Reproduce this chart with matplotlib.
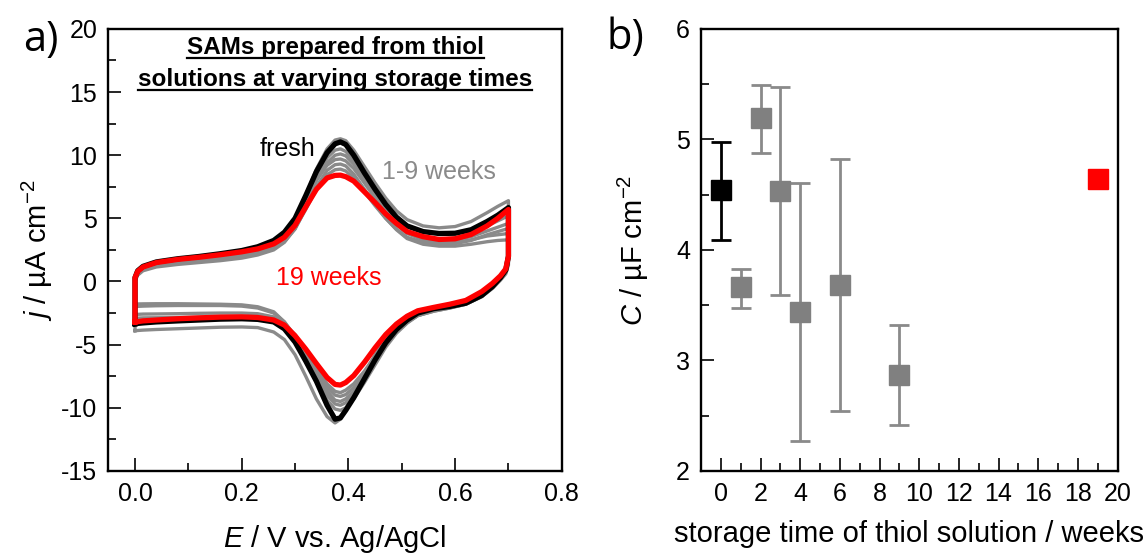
import numpy as np
import matplotlib
matplotlib.use('Agg')
import matplotlib.pyplot as plt
from matplotlib.lines import Line2D
from matplotlib.ticker import MultipleLocator

plt.rcParams['font.family'] = ['Liberation Sans', 'DejaVu Sans']
plt.rcParams['mathtext.fontset'] = 'custom'
plt.rcParams['mathtext.rm'] = 'Liberation Sans'
plt.rcParams['mathtext.it'] = 'Liberation Sans:italic'
plt.rcParams['axes.unicode_minus'] = False

# ---- panel a: cyclic voltammograms ----
E_fwd = [0.000, 0.000, 0.005, 0.015, 0.04, 0.08, 0.12, 0.16, 0.20, 0.23, 0.26, 0.28,
         0.30, 0.32, 0.34, 0.36, 0.375, 0.385, 0.395, 0.41, 0.43, 0.45, 0.47, 0.49,
         0.51, 0.54, 0.57, 0.60, 0.63, 0.66, 0.68, 0.70]
E_rev = [0.70, 0.70, 0.695, 0.685, 0.67, 0.65, 0.62, 0.59, 0.56, 0.53, 0.51, 0.49,
         0.47, 0.45, 0.43, 0.41, 0.395, 0.385, 0.375, 0.36, 0.34, 0.32, 0.30, 0.28,
         0.26, 0.23, 0.20, 0.16, 0.12, 0.08, 0.04, 0.015, 0.005, 0.0]

fresh_fwd = [-3.35, 0.3, 0.85, 1.2, 1.55, 1.8, 1.98, 2.2, 2.45, 2.75, 3.25, 3.9,
             5.0, 6.8, 8.7, 10.2, 10.9, 11.05, 10.85, 10.0, 8.6, 7.3, 6.1, 5.1,
             4.4, 3.95, 3.8, 3.82, 4.1, 4.75, 5.25, 5.85]
fresh_rev = [5.85, 2.0, 0.9, 0.3, -0.4, -1.1, -1.72, -1.98, -2.15, -2.5, -3.05, -3.8,
             -4.85, -6.2, -7.7, -9.2, -10.2, -10.8, -10.9, -9.8, -7.9, -6.3, -4.8, -3.75,
             -3.2, -3.0, -2.95, -2.98, -3.05, -3.12, -3.2, -3.28, -3.32, -3.35]

w19_fwd = [-3.2, 0.3, 0.8, 1.15, 1.5, 1.75, 1.92, 2.12, 2.35, 2.58, 2.98, 3.5,
           4.45, 5.9, 7.3, 8.2, 8.4, 8.42, 8.3, 7.95, 7.1, 6.25, 5.35, 4.6,
           3.95, 3.55, 3.33, 3.38, 3.72, 4.4, 5.0, 5.7]
w19_rev = [5.7, 2.0, 1.0, 0.45, -0.15, -0.8, -1.5, -1.8, -2.05, -2.32, -2.75, -3.37,
           -4.2, -5.25, -6.4, -7.45, -8.0, -8.2, -8.15, -7.6, -6.5, -5.35, -4.3, -3.45,
           -3.05, -2.85, -2.8, -2.82, -2.88, -2.95, -3.05, -3.12, -3.18, -3.2]

g1_fwd = [-3.9, 0.2, 0.7, 1.05, 1.4, 1.65, 1.82, 2.0, 2.25, 2.55, 3.05, 3.7,
          4.9, 6.8, 8.9, 10.5, 11.2, 11.3, 11.15, 10.4, 9.1, 7.8, 6.6, 5.6,
          4.9, 4.4, 4.25, 4.35, 4.75, 5.45, 5.95, 6.4]
g1_rev = [6.4, 2.2, 1.0, 0.4, -0.3, -1.0, -1.7, -2.0, -2.2, -2.5, -2.95, -3.6,
          -4.5, -5.8, -7.3, -8.9, -10.1, -10.9, -11.2, -10.7, -9.3, -7.5, -5.8, -4.6,
          -4.0, -3.65, -3.6, -3.62, -3.68, -3.74, -3.8, -3.85, -3.88, -3.9]
g2_fwd = [-1.8, 0.0, 0.5, 0.85, 1.15, 1.35, 1.5, 1.65, 1.85, 2.1, 2.5, 3.1,
          4.2, 6.1, 8.2, 9.8, 10.4, 10.5, 10.3, 9.6, 8.3, 7.0, 5.8, 4.8,
          4.0, 3.45, 3.25, 3.3, 3.55, 4.0, 4.3, 4.6]
g2_rev = [4.6, 1.8, 0.9, 0.3, -0.4, -1.1, -1.75, -2.05, -2.3, -2.7, -3.3, -4.1,
          -5.2, -6.6, -8.0, -9.3, -10.0, -10.2, -10.1, -9.4, -7.7, -6.0, -4.4, -3.2,
          -2.4, -2.0, -1.85, -1.8, -1.78, -1.76, -1.76, -1.77, -1.78, -1.8]
g3_fwd = [-2.0, 0.1, 0.6, 0.95, 1.3, 1.55, 1.72, 1.9, 2.1, 2.35, 2.75, 3.3,
          4.35, 6.1, 8.0, 9.4, 10.0, 10.1, 9.95, 9.3, 8.0, 6.7, 5.5, 4.5,
          3.8, 3.3, 3.1, 3.1, 3.3, 3.6, 3.7, 3.8]
g3_rev = [3.8, 1.5, 0.7, 0.2, -0.5, -1.2, -1.8, -2.1, -2.35, -2.7, -3.25, -4.0,
          -5.0, -6.3, -7.7, -8.9, -9.6, -9.8, -9.7, -9.0, -7.4, -5.8, -4.3, -3.2,
          -2.5, -2.1, -1.95, -1.9, -1.9, -1.9, -1.92, -1.95, -1.97, -2.0]
g4_fwd = [-2.6, 0.2, 0.7, 1.05, 1.4, 1.62, 1.8, 2.0, 2.25, 2.5, 2.95, 3.55,
          4.6, 6.3, 8.0, 9.2, 9.65, 9.7, 9.55, 8.95, 7.8, 6.6, 5.5, 4.6,
          3.9, 3.5, 3.35, 3.45, 3.8, 4.4, 4.8, 5.2]
g4_rev = [5.2, 2.0, 0.9, 0.3, -0.4, -1.05, -1.65, -1.95, -2.2, -2.55, -3.1, -3.9,
          -4.9, -6.2, -7.5, -8.7, -9.3, -9.5, -9.4, -8.7, -7.2, -5.7, -4.3, -3.3,
          -2.8, -2.55, -2.5, -2.5, -2.52, -2.55, -2.57, -2.58, -2.6, -2.6]
g5_fwd = [-2.9, 0.1, 0.6, 0.95, 1.25, 1.45, 1.6, 1.75, 1.95, 2.2, 2.6, 3.15,
          4.15, 5.8, 7.5, 8.8, 9.25, 9.3, 9.15, 8.5, 7.3, 6.1, 5.0, 4.1,
          3.4, 2.95, 2.8, 2.8, 2.95, 3.15, 3.25, 3.3]
g5_rev = [3.3, 1.3, 0.6, 0.1, -0.55, -1.2, -1.8, -2.1, -2.35, -2.7, -3.2, -3.95,
          -4.9, -6.1, -7.3, -8.4, -8.95, -9.1, -9.0, -8.4, -7.0, -5.6, -4.3, -3.35,
          -2.95, -2.8, -2.78, -2.8, -2.82, -2.85, -2.87, -2.88, -2.9, -2.9]
g6_fwd = [-3.1, 0.2, 0.7, 1.05, 1.35, 1.55, 1.7, 1.85, 2.05, 2.3, 2.7, 3.25,
          4.2, 5.7, 7.3, 8.45, 8.85, 8.9, 8.75, 8.2, 7.1, 6.0, 5.0, 4.15,
          3.5, 3.1, 2.95, 3.0, 3.25, 3.7, 3.95, 4.2]
g6_rev = [4.2, 1.7, 0.8, 0.25, -0.45, -1.1, -1.7, -2.0, -2.25, -2.6, -3.1, -3.8,
          -4.7, -5.9, -7.1, -8.1, -8.6, -8.8, -8.7, -8.1, -6.8, -5.5, -4.2, -3.4,
          -3.05, -2.95, -2.92, -2.95, -2.98, -3.0, -3.03, -3.05, -3.08, -3.1]

gray_fwd = [g1_fwd, g2_fwd, g3_fwd, g4_fwd, g5_fwd, g6_fwd]
gray_rev = [g1_rev, g2_rev, g3_rev, g4_rev, g5_rev, g6_rev]

# ---- panel b: capacitance vs storage time ----
weeks = [0, 1, 2, 3, 4, 6, 9, 19]
C = [4.54, 3.66, 5.19, 4.53, 3.44, 3.68, 2.87, 4.64]
C_hi = [4.98, 3.83, 5.49, 5.47, 4.61, 4.82, 3.32, np.nan]
C_lo = [4.09, 3.47, 4.88, 3.59, 2.27, 2.54, 2.42, np.nan]
pt_colors = ['black', '#808080', '#808080', '#808080', '#808080', '#808080', '#808080', '#ff0000']

GRAY = '#8a8a8a'
FS_TICK = 18
FS_LAB = 21
FS_NOTE = 18

fig = plt.figure(figsize=(11.43, 5.56), dpi=100)
ax1 = fig.add_axes([0.0948, 0.153, 0.3967, 0.795])
ax2 = fig.add_axes([0.6133, 0.153, 0.3644, 0.795])


def loop(ef, jf, er, jr):
    return list(ef) + list(er), list(jf) + list(jr)


for f, r in zip(gray_fwd, gray_rev):
    x, y = loop(E_fwd, f, E_rev, r)
    ax1.plot(x, y, color=GRAY, lw=2.4, solid_joinstyle='round')
x, y = loop(E_fwd, fresh_fwd, E_rev, fresh_rev)
ax1.plot(x, y, color='black', lw=3.8, solid_joinstyle='round')
x, y = loop(E_fwd, w19_fwd, E_rev, w19_rev)
ax1.plot(x, y, color='#ff0000', lw=3.8, solid_joinstyle='round')

ax1.set_xlim(-0.05, 0.8)
ax1.set_ylim(-15, 20)
ax1.xaxis.set_major_locator(MultipleLocator(0.2))
ax1.xaxis.set_minor_locator(MultipleLocator(0.1))
ax1.yaxis.set_major_locator(MultipleLocator(5))
ax1.yaxis.set_minor_locator(MultipleLocator(2.5))
ax1.set_xticks([0.0, 0.2, 0.4, 0.6, 0.8])
ax1.set_xticklabels(['0.0', '0.2', '0.4', '0.6', '0.8'])
ax1.set_xlabel(r'$\mathit{E}$ / V vs. Ag/AgCl', fontsize=FS_LAB, labelpad=12)
ax1.set_ylabel(r'$\mathit{j}$ / µA cm$^{\mathrm{-2}}$', fontsize=FS_LAB, labelpad=4)

t1 = ax1.text(0.5, 18.55, 'SAMs prepared from thiol', ha='center', va='center',
              fontsize=17.5, fontweight='bold', transform=ax1.get_yaxis_transform())
t2 = ax1.text(0.5, 16.0, 'solutions at varying storage times', ha='center', va='center',
              fontsize=17.5, fontweight='bold', transform=ax1.get_yaxis_transform())
ax1.text(0.285, 10.5, 'fresh', ha='center', va='center', fontsize=FS_NOTE, color='black')
ax1.text(0.57, 8.7, '1-9 weeks', ha='center', va='center', fontsize=FS_NOTE, color=GRAY)
ax1.text(0.364, 0.3, '19 weeks', ha='center', va='center', fontsize=FS_NOTE, color='#ff0000')

# panel b
for xw, c, hi, lo, col in zip(weeks, C, C_hi, C_lo, pt_colors):
    ecol = 'black' if col == 'black' else GRAY
    if not np.isnan(hi):
        ax2.errorbar([xw], [c], yerr=[[c - lo], [hi - c]], fmt='none', ecolor=ecol,
                     elinewidth=2.0, capsize=7, capthick=2.0, zorder=2)
    ax2.plot([xw], [c], marker='s', ms=14, color=col, mec=col, ls='none', zorder=3)

ax2.set_xlim(-1, 20)
ax2.set_ylim(2, 6)
ax2.xaxis.set_major_locator(MultipleLocator(2))
ax2.xaxis.set_minor_locator(MultipleLocator(1))
ax2.yaxis.set_major_locator(MultipleLocator(1))
ax2.yaxis.set_minor_locator(MultipleLocator(0.5))
ax2.set_xlabel('storage time of thiol solution / weeks', fontsize=FS_LAB, labelpad=10)
ax2.set_ylabel(r'$\mathit{C}$ / µF cm$^{\mathrm{-2}}$', fontsize=FS_LAB, labelpad=18)

for ax in (ax1, ax2):
    for s in ax.spines.values():
        s.set_linewidth(1.7)
    ax.tick_params(which='both', direction='in', top=False, right=False,
                   labelsize=FS_TICK, width=1.2, pad=8)
    ax.tick_params(which='major', length=9.5)
    ax.tick_params(which='minor', length=6)

fig.text(0.036, 0.928, 'a)', fontsize=30, ha='center', va='center', family=['Open Sans', 'DejaVu Sans'])
fig.text(0.547, 0.932, 'b)', fontsize=30, ha='center', va='center', family=['Open Sans', 'DejaVu Sans'])

# underline the two title lines
fig.canvas.draw()
r = fig.canvas.get_renderer()
W, H = fig.bbox.width, fig.bbox.height
for t in (t1, t2):
    bb = t.get_window_extent(renderer=r)
    yline = (bb.y0 + 1) / H
    fig.add_artist(Line2D([bb.x0 / W, bb.x1 / W], [yline, yline], color='black', lw=1.6))

fig.savefig('out.png', dpi=100)
